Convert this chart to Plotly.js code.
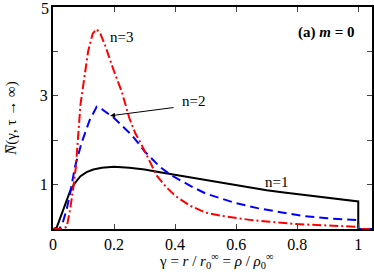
<!DOCTYPE html>
<html><head><meta charset="utf-8">
<script src="https://cdn.plot.ly/plotly-3.0.1.min.js"></script>
<style>html,body{margin:0;padding:0;background:#fff}#c{width:374px;height:273px}</style>
</head><body><div id="c"></div>
<script>
// n=1 (black solid)
const x1 = [0,0.012,0.034,0.056,0.07,0.09,0.11,0.132,0.16,0.2,0.25,0.3,0.35,0.4,0.45,0.5,0.55,0.6,0.65,0.7,0.75,0.8,0.85,0.9,0.95,1.0,1.0,1.05];
const y1 = [0,0.03,0.44,0.85,1.02,1.19,1.28,1.34,1.38,1.40,1.38,1.34,1.28,1.22,1.16,1.10,1.04,0.985,0.93,0.875,0.83,0.785,0.74,0.70,0.66,0.62,0,0];
// n=2 (blue dashed)
const x2 = [0,0.02,0.03,0.045,0.056,0.072,0.094,0.12,0.143,0.16,0.2,0.26,0.3,0.35,0.385,0.45,0.5,0.57,0.6,0.67,0.75,0.82,0.9,1.0,1.0,1.05];
const y2 = [0,0,0.1,0.45,0.8,1.4,1.95,2.45,2.75,2.7,2.5,2.1,1.75,1.4,1.22,0.97,0.8,0.64,0.58,0.47,0.37,0.29,0.24,0.2,0,0];
// n=3 (red dash-dot)
const x3 = [0,0.03,0.045,0.055,0.065,0.075,0.09,0.1,0.115,0.13,0.143,0.155,0.17,0.2,0.225,0.25,0.27,0.29,0.32,0.34,0.37,0.4,0.45,0.5,0.55,0.6,0.65,0.7,0.8,0.9,1.0,1.0,1.05];
const y3 = [0,0,0.05,0.4,0.85,1.4,2.8,3.3,4.0,4.4,4.5,4.4,4.15,3.55,3.1,2.5,2.15,1.9,1.5,1.2,0.95,0.75,0.52,0.37,0.3,0.25,0.2,0.17,0.11,0.08,0.05,0,0];

const xTicks = [0,0.2,0.4,0.6,0.8,1];
const xTickText = ['0','0.2','0.4','0.6','0.8','1'];
const yTicks = [0,1,2,3,4,5];
const yTickText = ['','1','','3','','5'];

const F = 'Liberation Serif';
const traces = [
  {x:x1,y:y1,mode:'lines',line:{color:'#000000',width:2}},
  {x:x2,y:y2,mode:'lines',line:{color:'#0000ff',width:2,dash:'9px,5px'}},
  {x:x3,y:y3,mode:'lines',line:{color:'#ff0000',width:2,dash:'9px,3px,2px,3px'}}
];
const layout = {
  width:374,height:273,
  margin:{l:53,r:2,t:7,b:44},
  showlegend:false,
  paper_bgcolor:'#fff',plot_bgcolor:'#fff',
  font:{family:F,size:16,color:'#000'},
  xaxis:{range:[0,1.045],tickvals:xTicks,ticktext:xTickText,ticks:'inside',ticklen:5,tickwidth:1,
    showline:true,linewidth:2,linecolor:'#000',mirror:'ticks',showgrid:false,zeroline:false,
    tickfont:{family:F,size:16},automargin:false},
  yaxis:{range:[0,5],tickvals:yTicks.slice(0,5),ticktext:yTickText.slice(0,5),ticks:'inside',ticklen:5,tickwidth:1,
    showline:true,linewidth:2,linecolor:'#000',mirror:'ticks',showgrid:false,zeroline:false,
    tickfont:{family:F,size:16},automargin:false,
    title:{text:'<i>N̅</i>(γ, τ → ∞)',font:{family:F,size:15},standoff:20}},
  annotations:[
    {xref:'paper',x:0,y:yTicks[5],text:yTickText[5],showarrow:false,xanchor:'right',xshift:-2,yshift:-1,font:{family:F,size:16}},
    {xref:'paper',yref:'paper',x:0.514,y:0,yanchor:'top',yshift:-21,showarrow:false,borderpad:0,
     text:'γ = <i>r</i> / <i>r</i><sub>0</sub><sup>∞</sup> = <i>ρ</i> / <i>ρ</i><sub>0</sub><sup>∞</sup>',font:{family:F,size:15}},
    {x:0.226,y:4.33,text:'n=3',showarrow:false,font:{family:F,size:15}},
    {x:0.459,y:2.89,text:'n=2',showarrow:false,font:{family:F,size:15}},
    {x:0.187,y:2.55,ax:0.40,ay:2.74,axref:'x',ayref:'y',text:'',showarrow:true,arrowhead:2,arrowsize:1,arrowwidth:1,arrowcolor:'#000'},
    {x:0.731,y:1.05,text:'n=1',showarrow:false,font:{family:F,size:15}},
    {x:0.893,y:4.43,text:'<b>(a) <i>m</i> = 0</b>',showarrow:false,font:{family:F,size:15}}
  ]
};
Plotly.newPlot('c',traces,layout,{displayModeBar:false,staticPlot:true});
</script></body></html>
